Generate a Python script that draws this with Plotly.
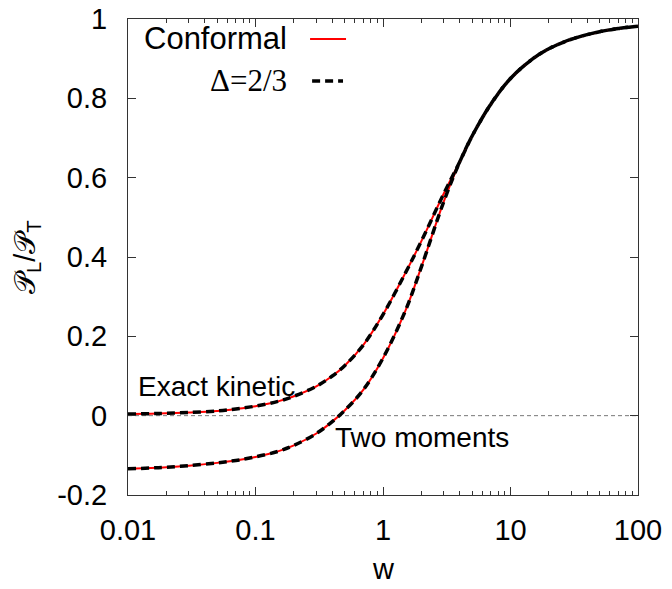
import plotly.graph_objects as go

# ---- data ----
w_exact = [0.01, 0.015, 0.02, 0.03, 0.05, 0.07, 0.1, 0.15, 0.2, 0.3, 0.4, 0.5, 0.7, 1,
           1.5, 2, 3, 4, 5, 7, 10, 15, 20, 30, 50, 70, 100]
exact_conformal = [0.004, 0.005, 0.006, 0.008, 0.012, 0.017, 0.024, 0.036, 0.049, 0.074, 0.1,
                   0.126, 0.178, 0.255, 0.36, 0.44, 0.56, 0.64, 0.705, 0.785, 0.85, 0.9,
                   0.925, 0.949, 0.968, 0.976, 0.982]
exact_delta = [0.004, 0.005, 0.006, 0.008, 0.012, 0.017, 0.024, 0.036, 0.049, 0.074, 0.1,
               0.126, 0.178, 0.255, 0.36, 0.44, 0.56, 0.64, 0.705, 0.785, 0.85, 0.9,
               0.925, 0.949, 0.968, 0.976, 0.982]

w_two = [0.01, 0.015, 0.02, 0.03, 0.05, 0.07, 0.1, 0.15, 0.2, 0.3, 0.4, 0.5, 0.7, 1,
         1.5, 2, 3, 4, 5, 7, 10, 15, 20, 30, 50, 70, 100]
two_conformal = [-0.134, -0.132, -0.13, -0.126, -0.119, -0.113, -0.104, -0.09, -0.075, -0.045,
                 -0.015, 0.013, 0.065, 0.145, 0.265, 0.375, 0.54, 0.64, 0.705, 0.785, 0.85,
                 0.9, 0.925, 0.949, 0.968, 0.976, 0.982]
two_delta = [-0.134, -0.132, -0.13, -0.126, -0.119, -0.113, -0.104, -0.09, -0.075, -0.045,
             -0.015, 0.013, 0.065, 0.145, 0.265, 0.375, 0.54, 0.64, 0.705, 0.785, 0.85,
             0.9, 0.925, 0.949, 0.968, 0.976, 0.982]

y_tickvals = [-0.2, 0, 0.2, 0.4, 0.6, 0.8, 1]
y_ticktext = ["-0.2", "0", "0.2", "0.4", "0.6", "0.8", "1"]
x_minor_ticks = [m * d for d in [0.01, 0.1, 1, 10] for m in range(2, 10)]

FONT = "Liberation Sans, Arial, sans-serif"
RED = "#ff0000"
BLACK = "#000000"
AXC = "#333333"

fig = go.Figure()

for xs, ys in [(w_exact, exact_conformal), (w_two, two_conformal)]:
    fig.add_trace(go.Scatter(x=xs, y=ys, mode="lines", showlegend=False,
                             line=dict(color=RED, width=2, shape="spline", smoothing=1.0)))
for xs, ys in [(w_exact, exact_delta), (w_two, two_delta)]:
    fig.add_trace(go.Scatter(x=xs, y=ys, mode="lines", showlegend=False,
                             line=dict(color=BLACK, width=3.5, dash="8px,5px",
                                       shape="spline", smoothing=1.0)))
# invisible trace to carry the minor-tick overlay axis
fig.add_trace(go.Scatter(x=w_exact, y=exact_conformal, xaxis="x2", mode="lines",
                         showlegend=False, hoverinfo="skip", opacity=0,
                         line=dict(color="rgba(0,0,0,0)", width=0)))

fig.add_hline(y=0, line=dict(color="#777777", width=1, dash="4px,3px"), layer="below",
              opacity=1)

# legend drawn gnuplot-style (text, then sample)
fig.add_annotation(xref="paper", yref="paper", x=0.316, y=0.958, text="Conformal",
                   showarrow=False, xanchor="right", yanchor="middle",
                   font=dict(family=FONT, size=31, color="black"))
fig.add_annotation(xref="paper", yref="paper", x=0.316, y=0.870, text="Δ=2/3",
                   showarrow=False, xanchor="right", yanchor="middle",
                   font=dict(family="Liberation Serif, Times New Roman, serif", size=31, color="black"))
fig.add_shape(type="line", xref="paper", yref="paper", x0=0.357, x1=0.4275, y0=0.958, y1=0.958,
              line=dict(color=RED, width=2), opacity=1)
fig.add_shape(type="line", xref="paper", yref="paper", x0=0.361, x1=0.4216, y0=0.870, y1=0.870,
              line=dict(color=BLACK, width=3.5, dash="8px,5px"), opacity=1)

fig.add_annotation(xref="paper", yref="paper", x=0.0157, y=0.227, text="Exact kinetic",
                   showarrow=False, xanchor="left", yanchor="middle",
                   font=dict(family=FONT, size=28, color="black"))
fig.add_annotation(xref="paper", yref="paper", x=0.402, y=0.120, text="Two moments",
                   showarrow=False, xanchor="left", yanchor="middle",
                   font=dict(family=FONT, size=28, color="black"))

# axis titles
fig.add_annotation(xref="paper", yref="paper", x=0.5, y=-0.156, text="w",
                   showarrow=False, xanchor="center", yanchor="middle",
                   font=dict(family=FONT, size=29, color="black"))
fig.add_annotation(xref="paper", yref="paper", x=-0.198, y=0.5,
                   text="𝒫<sub>L</sub>/𝒫<sub>T</sub>", textangle=-90,
                   showarrow=False, xanchor="center", yanchor="middle",
                   font=dict(family=FONT, size=29, color="black"))

fig.update_layout(
    template="simple_white",
    width=672, height=589,
    margin=dict(l=128, r=34, t=19, b=94),
    paper_bgcolor="white", plot_bgcolor="white",
    font=dict(family=FONT, size=29, color="black"),
    xaxis=dict(type="log", range=[-2, 2], dtick=1, tickmode="linear", tick0=0,
               ticks="inside", ticklen=8, tickwidth=1.3, tickcolor=AXC,
               showline=True, linecolor=AXC, linewidth=1, mirror="ticks",
               showgrid=False, zeroline=False, automargin=False,
               ticklabelstandoff=9, ticklabeloverflow="allow"),
    xaxis2=dict(type="log", range=[-2, 2], overlaying="x", side="bottom",
                tickmode="array", tickvals=x_minor_ticks, showticklabels=False,
                ticks="inside", ticklen=4, tickwidth=1.2, tickcolor=AXC, mirror="ticks",
                showline=False, showgrid=False, zeroline=False, automargin=False),
    yaxis=dict(range=[-0.2, 1], tickmode="array", tickvals=y_tickvals, ticktext=y_ticktext,
               ticks="inside", ticklen=8, tickwidth=1.3, tickcolor=AXC,
               showline=True, linecolor=AXC, linewidth=1, mirror="ticks",
               showgrid=False, zeroline=False, automargin=False,
               ticklabelstandoff=14, ticklabeloverflow="allow"),
)

# remove the page's default 8px body margin so the figure sits at the window's corner
fig.write_html("out.html", config={"displayModeBar": False},
               post_script="document.body.style.margin='0';")
